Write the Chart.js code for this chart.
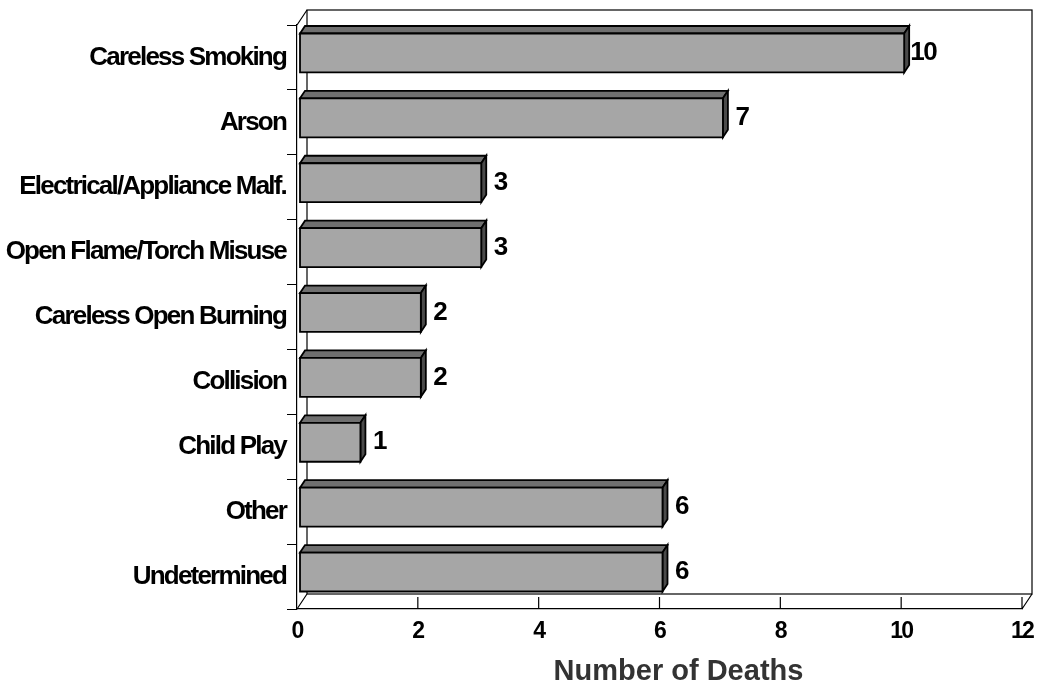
<!DOCTYPE html>
<html>
<head>
<meta charset="utf-8">
<script src="https://cdn.jsdelivr.net/npm/chart.js@4"></script>
<style>
  html, body { margin: 0; padding: 0; background: #fff; }
  canvas { display: block; }
</style>
</head>
<body>
<canvas id="deathsChart" width="1052" height="686"></canvas>
<script>
const categories = [
  "Careless Smoking",
  "Arson",
  "Electrical/Appliance Malf.",
  "Open Flame/Torch Misuse",
  "Careless Open Burning",
  "Collision",
  "Child Play",
  "Other",
  "Undetermined"
];
const deaths = [10, 7, 3, 3, 2, 2, 1, 6, 6];
const xTicks = [0, 2, 4, 6, 8, 10, 12];
const axisTitle = "Number of Deaths";

// depth of the fake 3D box
const DX = 10, DY = -15;

// Draws the back wall, bars in 3D and labels
const box3d = {
  id: "box3d",
  beforeDraw(chart) {
    chart.ctx.letterSpacing = "-1.8px";
  },
  beforeDatasetsDraw(chart) {
    const { ctx, chartArea: a, scales } = chart;
    ctx.save();
    ctx.strokeStyle = "#000";
    ctx.lineWidth = 1.2;
    ctx.strokeRect(a.left + DX, a.top + DY, a.right - a.left, a.bottom - a.top);
    ctx.beginPath();
    ctx.moveTo(a.left, a.top); ctx.lineTo(a.left + DX, a.top + DY);
    ctx.moveTo(a.left, a.bottom); ctx.lineTo(a.left + DX, a.bottom + DY);
    ctx.moveTo(a.right, a.bottom); ctx.lineTo(a.right + DX, a.bottom + DY);
    // x ticks pointing inward
    xTicks.forEach(v => {
      if (v === 0) return;
      const x = scales.x.getPixelForValue(v);
      ctx.moveTo(x, a.bottom); ctx.lineTo(x, a.bottom - 12);
    });
    ctx.stroke();
    ctx.restore();
  },
  afterDatasetsDraw(chart) {
    const { ctx } = chart;
    const meta = chart.getDatasetMeta(0);
    ctx.save();
    ctx.lineWidth = 1.8;
    ctx.strokeStyle = "#000";
    const ox = DX * 0.3, oy = DY * 0.3;
    const dx = DX * 0.5, dy = DY * 0.5;
    meta.data.forEach((bar, i) => {
      const h = bar.height;
      const x0 = bar.base + ox, x1 = bar.x + ox;
      const y0 = bar.y - h / 2 + oy, y1 = y0 + h;
      // top face
      ctx.beginPath();
      ctx.moveTo(x0, y0); ctx.lineTo(x0 + dx, y0 + dy);
      ctx.lineTo(x1 + dx, y0 + dy); ctx.lineTo(x1, y0); ctx.closePath();
      ctx.fillStyle = "#6f6f6f"; ctx.fill(); ctx.stroke();
      // side face
      ctx.beginPath();
      ctx.moveTo(x1, y0); ctx.lineTo(x1 + dx, y0 + dy);
      ctx.lineTo(x1 + dx, y1 + dy); ctx.lineTo(x1, y1); ctx.closePath();
      ctx.fillStyle = "#4a4a4a"; ctx.fill(); ctx.stroke();
      // front face
      ctx.beginPath();
      ctx.rect(x0, y0, x1 - x0, h);
      ctx.fillStyle = "#a6a6a6"; ctx.fill(); ctx.stroke();
      // value label
      ctx.letterSpacing = "-1.5px";
      ctx.fillStyle = "#000";
      ctx.font = "bold 26px 'Liberation Sans', Arial, sans-serif";
      ctx.textAlign = "center";
      ctx.textBaseline = "middle";
      ctx.fillText(String(deaths[i]), x1 + 19, (y0 + y1) / 2);
    });
    ctx.restore();
  },
  afterDraw(chart) {
    const { ctx, chartArea: a } = chart;
    ctx.save();
    ctx.letterSpacing = "0px";
    ctx.fillStyle = "#333";
    ctx.font = "bold 29px 'Liberation Sans', Arial, sans-serif";
    ctx.textAlign = "center";
    ctx.textBaseline = "middle";
    ctx.fillText(axisTitle, (a.left + a.right) / 2 + 19, 672);
    ctx.restore();
  }
};

const ctx = document.getElementById("deathsChart").getContext("2d");
const chart = new Chart(ctx, {
  type: "bar",
  data: {
    labels: categories,
    datasets: [{
      label: axisTitle,
      data: deaths,
      backgroundColor: "rgba(0,0,0,0)",
      borderWidth: 0,
      barPercentage: 0.6,
      categoryPercentage: 1
    }]
  },
  options: {
    indexAxis: "y",
    responsive: false,
    devicePixelRatio: 1,
    animation: false,
    layout: { padding: { top: 25, right: 30, left: 0, bottom: 0 } },
    plugins: {
      legend: { display: false },
      title: { display: false },
      tooltip: { enabled: false }
    },
    scales: {
      y: {
        grid: { offset: true, drawOnChartArea: false, tickLength: 10, color: "#000" },
        border: { color: "#000", width: 1.2 },
        ticks: {
          autoSkip: false,
          padding: 1,
          color: "#000",
          font: { family: "'Liberation Sans', Arial, sans-serif", size: 26, weight: "bold" }
        },
        afterFit(scale) { scale.width = 297; }
      },
      x: {
        min: 0,
        max: 12,
        afterBuildTicks(scale) { scale.ticks = xTicks.map(v => ({ value: v })); },
        grid: { display: false, drawTicks: false },
        border: { color: "#000", width: 1.2 },
        ticks: {
          padding: 9,
          color: "#000",
          font: { family: "'Liberation Sans', Arial, sans-serif", size: 23, weight: "bold" }
        },
        afterFit(scale) { scale.height = 77; }
      }
    }
  },
  plugins: [box3d]
});
</script>
</body>
</html>
